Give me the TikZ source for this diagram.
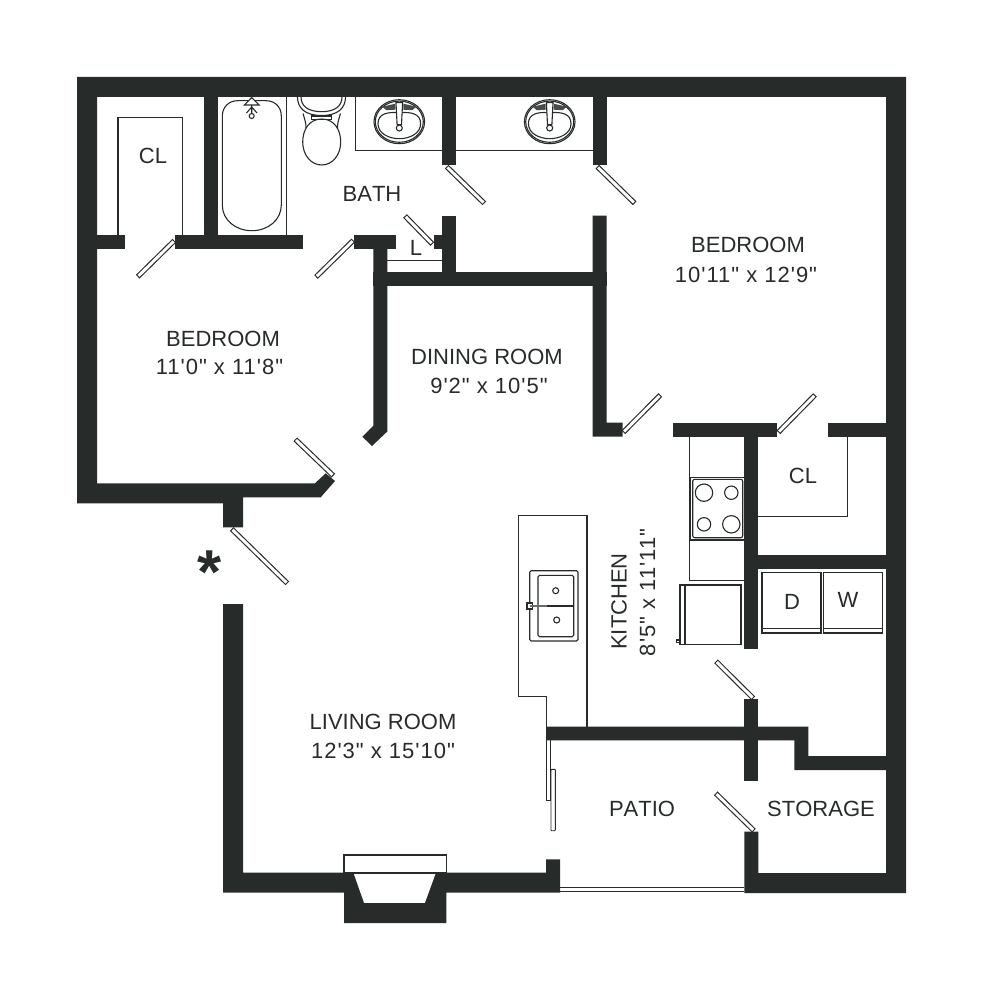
\documentclass[tikz,border=0pt]{standalone}
\usepackage{fontspec}
\setmainfont{Liberation Sans}
\newfontfamily\capsface[Kerning=Off]{Liberation Sans}
\newfontfamily\dimface[LetterSpace=4.5]{Liberation Sans}
\definecolor{wallc}{HTML}{272C2B}
\newcommand{\doorleaf}[2]{%
  \draw[line width=5.2,wallc,line cap=butt] (#1) -- (#2);
  \draw[line width=2.9,white,line cap=butt,shorten >=1.1,shorten <=1.1] (#1) -- (#2);}
\newcommand{\basinbowl}[2]{%
  \begin{scope}[shift={(#1,#2)}]
    \draw[thin line] (0,0) ellipse [x radius=25.3,y radius=22];
    \draw[thin line] (0,0) ellipse [x radius=24,y radius=20.6];
    \draw[thin line] (-21.3,2) .. controls (-21.3,-8) and (-12,-10) .. (0,-9) .. controls (12,-10) and (21.3,-8) .. (21.3,2) .. controls (21.3,12) and (10,17) .. (0,17) .. controls (-10,17) and (-21.3,12) .. (-21.3,2) -- cycle;
    \fill[wallc!85] (-17,-15) -- (-4,-18) -- (-4,-12) -- (-13,-11.5) -- cycle;
    \fill[wallc!85] (17,-15) -- (4,-18) -- (4,-12) -- (13,-11.5) -- cycle;
    \draw[thin line,fill=white] (-3.3,-19) -- (3.3,-19) -- (2.2,3) -- (-2.2,3) -- cycle;
    \draw[thin line,fill=white] (0,6.3) circle (3);
  \end{scope}}
\tikzset{
  thin line/.style={draw=wallc,line width=1.1},
  wallfill/.style={fill=wallc,draw=none},
  label/.style={text=wallc,font=\capsface\fontsize{22}{24}\selectfont,inner sep=0pt,align=center},
  dimlabel/.style={text=wallc,font=\dimface\fontsize{22}{24}\selectfont,inner sep=0pt,align=center},
}
\begin{document}
\begin{tikzpicture}[x=1pt,y=-1pt]
\useasboundingbox (0,0) rectangle (983,1000);
\fill[white] (0,0) rectangle (983,1000);

% closets and counters
\draw[thin line] (118,235) -- (118,117.7) -- (182.7,117.7) -- (182.7,235);
\draw[thin line] (286.7,97) -- (286.7,235);
\draw[thin line] (355.3,97) -- (355.3,150.7) -- (442.3,150.7);
\draw[thin line] (456.3,150.7) -- (592.7,150.7);
\draw[thin line] (387,260.7) -- (442.3,260.7);
\draw[thin line] (847.3,437) -- (847.3,516.3) -- (758,516.3);
\draw[thin line] (689.3,437) -- (689.3,580.3) -- (744.3,580.3);

% tub
\draw[thin line] (237.5,100.7) -- (266,100.7) .. controls (275,100.7) and (281.3,107) .. (281.3,116) -- (281.3,205) .. controls (281.3,220) and (268,230.7) .. (251.8,230.7) .. controls (235.6,230.7) and (222.3,220) .. (222.3,205) -- (222.3,116) .. controls (222.3,107) and (229,100.7) .. (237.5,100.7) -- cycle;
\draw[thin line,fill=white] (251.7,97.5) -- (259,105) -- (244.5,105) -- cycle;
\draw[thin line] (251.7,105) -- (251.7,113.5) (246.5,113) -- (251.7,107) -- (257,113);
\draw[thin line,fill=white] (251.7,116) circle (2.5);

% toilet
\draw[thin line] (297.5,97) .. controls (297.5,108) and (305,115.5) .. (321.7,115.5) .. controls (338,115.5) and (345.5,108) .. (345.5,97);
\draw[thin line] (301,97) .. controls (301,106) and (308,111.7) .. (321.7,111.7) .. controls (335,111.7) and (342,106) .. (342,97);
\draw[thin line] (311.7,116) rectangle (331.7,119.5);
\draw[thin line] (303,113.5) .. controls (305,120) and (306,123) .. (306,128);
\draw[thin line] (340.5,113.5) .. controls (338.5,120) and (337.5,123) .. (337.5,128);
\draw[thin line] (321.7,119) .. controls (309,119) and (302.7,130) .. (302.7,142) .. controls (302.7,155) and (311,165) .. (321.7,165) .. controls (332.4,165) and (340.7,155) .. (340.7,142) .. controls (340.7,130) and (334.4,119) .. (321.7,119) -- cycle;

% basins
\basinbowl{399.3}{121.7}
\basinbowl{549.7}{121.7}

% island and sink
\draw[thin line] (546.7,727) -- (546.7,696.7) -- (518.3,696.7) -- (518.3,515.3) -- (587,515.3) -- (587,727);
\draw[thin line,rounded corners=1.5] (529.7,570.7) rectangle (578,641);
\draw[thin line,rounded corners=1.5] (538,575.3) rectangle (573.7,636.7);
\draw[thin line] (538,606) -- (573.7,606);
\draw[thin line] (555.7,590.7) circle (3);
\draw[thin line] (556.7,620) circle (3);
\draw[thin line,fill=white] (527,603) rectangle (532.5,609);
\draw[line width=2.4,draw=wallc!70] (530,606) -- (546.5,606);

% stove
\draw[thin line] (690.7,477.3) rectangle (744.3,540);
\draw[thin line,rounded corners=2] (692.7,479.3) rectangle (742.7,537.7);
\draw[thin line] (704,492.7) circle (8.7);
\draw[thin line] (731.3,492.7) circle (6.7);
\draw[thin line] (704,524.3) circle (6.7);
\draw[thin line] (731.3,524.3) circle (8.7);

% fridge
\draw[thin line] (680,585) rectangle (741,644.3);
\draw[thin line] (685,585) -- (685,644.3);
\draw[thin line] (676.5,640) rectangle (680,642.5);

% washer and dryer
\draw[thin line] (762,572.7) rectangle (821,633);
\draw[thin line] (762,628.7) -- (821,628.7);
\draw[thin line] (823.3,572.7) rectangle (882.7,633);
\draw[thin line] (823.3,628.7) -- (882.7,628.7);

% sliding doors
\draw[thin line,line width=0.9] (546.7,740) -- (546.7,800) -- (550.7,800) -- (550.7,740);
\draw[thin line,line width=0.9,fill=white,rounded corners=0.8] (551,769.3) rectangle (555.3,830.7);
\draw[thin line] (560,887.6) -- (744.3,887.6);
\draw[thin line] (560,891.8) -- (744.3,891.8);

% fireplace hood
\draw[thin line,fill=white] (344,873) rectangle (446.3,855);

% walls
\fill[wallfill] (77,77) -- (906,77) -- (906,893) -- (744.3,893) -- (744.3,831.7) -- (758.3,831.7) -- (758.3,873) -- (886,873) -- (886,97) -- (97,97) -- (97,483.3) -- (315,483.3) -- (325.7,473.3) -- (335,481) -- (320.7,497.3) -- (243,497.3) -- (243,527.3) -- (223,527.3) -- (223,503.3) -- (77,503.3) -- cycle;
\fill[wallfill] (223,604) -- (243,604) -- (243,872.7) -- (344,872.7) -- (353.3,872.7) -- (364,903) -- (425,903) -- (436,872.7) -- (446.3,872.7) -- (546,872.7) -- (546,859.3) -- (560,859.3) -- (560,892.7) -- (446.3,892.7) -- (446.3,923) -- (344,923) -- (344,892.7) -- (223,892.7) -- cycle;
% bath walls
\fill[wallfill] (97,234.7) rectangle (125.3,248.7);
\fill[wallfill] (175.3,234.7) rectangle (303.3,248.7);
\fill[wallfill] (204,97) rectangle (217.7,235);
\fill[wallfill] (442.3,97) rectangle (456.3,165.3);
\fill[wallfill] (592.7,97) rectangle (606.7,165.3);
\fill[wallfill] (442.3,215.7) rectangle (456.3,272.5);
\fill[wallfill] (434,235) rectangle (443,249);
\fill[wallfill] (354,235) rectangle (395.7,249);
\fill[wallfill] (373.3,272.3) rectangle (606.7,286.3);
\fill[wallfill] (373.3,249) -- (387.3,249) -- (387.3,431.5) -- (372,446) -- (362.3,436.7) -- (373.3,425.7) -- cycle;
\fill[wallfill] (592.7,215.7) -- (606.7,215.7) -- (606.7,422.7) -- (622.7,422.7) -- (622.7,436.7) -- (592.7,436.7) -- cycle;
% kitchen walls
\fill[wallfill] (672.7,423.3) rectangle (777.3,437);
\fill[wallfill] (827.7,423.3) rectangle (886,437);
\fill[wallfill] (744.3,437) rectangle (758.3,649);
\fill[wallfill] (758,555) rectangle (886,569);
\fill[wallfill] (546,726.7) -- (808.3,726.7) -- (808.3,756) -- (886,756) -- (886,770) -- (794.4,770) -- (794.4,740.3) -- (546,740.3) -- cycle;
\fill[wallfill] (744.3,699) rectangle (758.3,781);

% door leaves
\doorleaf{174.3,240.7}{137.7,276.7}
\doorleaf{353.3,240.4}{316,277}
\doorleaf{446.7,166.7}{484.3,203.3}
\doorleaf{597.3,166.7}{634.7,203.3}
\doorleaf{432.3,244}{405,216}
\doorleaf{623.3,432.3}{660.3,395}
\doorleaf{778.3,432.3}{815,395}
\doorleaf{333.3,475.7}{295.3,439.3}
\doorleaf{231.7,529}{287.3,583.3}
\doorleaf{753.3,698.3}{716,661.3}
\doorleaf{754,830.7}{715.7,793.3}

% labels
\node[label] (clone) at (153,156) {CL};
\node[label] (bath) at (372,194) {BATH};
\node[label] (lcloset) at (416,248) {L};
\node[label] (bedroomr) at (748,245) {BEDROOM};
\node[dimlabel] (bedroomrs) at (746,275) {10'11" x 12'9"};
\node[label] (bedrooml) at (223,339) {BEDROOM};
\node[dimlabel] (bedroomls) at (219.5,367) {11'0" x 11'8"};
\node[label] (dining) at (487,357) {DINING ROOM};
\node[dimlabel] (dinings) at (489,386) {9'2" x 10'5"};
\node[label] (cltwo) at (803,476) {CL};
\node[label,rotate=90] (kitchen) at (619,601.5) {KITCHEN};
\node[dimlabel,rotate=90] (kitchens) at (647.5,592.5) {8'5" x 11'11"};
\node[label] (dryer) at (792,602) {D};
\node[label] (washer) at (848,600) {W};
\node[label] (living) at (383,722) {LIVING ROOM};
\node[dimlabel] (livings) at (383,751) {12'3" x 15'10"};
\node[label] (patio) at (642,809) {PATIO};
\node[label] (storage) at (821,809) {STORAGE};
\node[text=wallc,inner sep=0pt,font=\fontsize{62}{62}\selectfont\bfseries] (star) at (210,572) {*};
\end{tikzpicture}
\end{document}
